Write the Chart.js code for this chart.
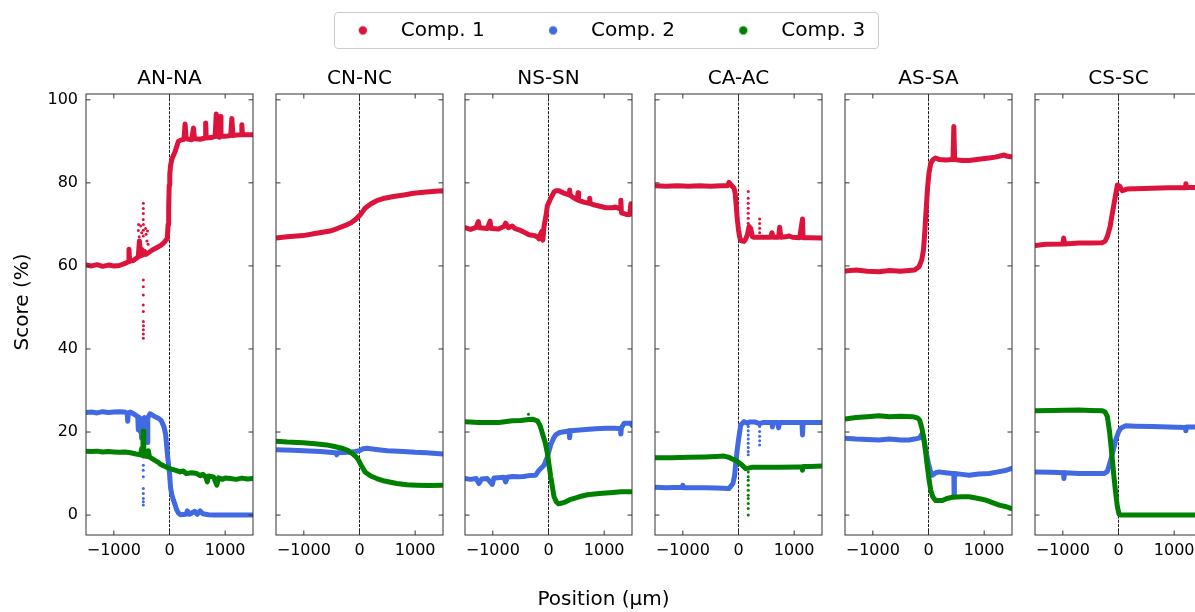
<!DOCTYPE html>
<html>
<head>
<meta charset="utf-8">
<script src="https://cdn.jsdelivr.net/npm/chart.js@4"></script>
<style>
  html, body { margin: 0; padding: 0; background: #fff; }
  #fig { position: relative; width: 1195px; height: 612px; overflow: hidden; }
  #fig canvas { position: absolute; }
  #legendBox {
    position: absolute; left: 334px; top: 12px; width: 545px; height: 37px;
    box-sizing: border-box; border: 1px solid #cccccc; border-radius: 4px;
  }
</style>
</head>
<body>
<div id="fig">
  <canvas id="frame" width="1172" height="612" style="left:0;top:0"></canvas>
  <div id="legendBox"></div>
  <canvas id="legend" width="700" height="300" style="left:268px;top:-56px"></canvas>
</div>
<script>
// Series names and panel titles
const seriesNames = ['Comp. 1', 'Comp. 2', 'Comp. 3'];
const panelTitles = ['AN-NA', 'CN-NC', 'NS-SN', 'CA-AC', 'AS-SA', 'CS-SC'];

// Shared axis limits and tick values (µm, %)
const xLimits = [-1500, 1500];
const yLimits = [-4.8, 101.4];
const xTickValues = [-1000, 0, 1000];
const yTickValues = [0, 20, 40, 60, 80, 100];

// [position, score] pairs
const anNaComp1 = [[-1500,60.2],[-1400,60.0],[-1300,60.3],[-1200,59.9],[-1100,60.2],[-1000,60.0],[-900,60.1],[-800,60.6],
  [-740,61.0],[-728,64.0],[-716,61.2],[-650,61.3],[-600,61.8],[-560,62.2],[-540,66],[-520,62.4],[-500,64],[-480,62.6],
  [-450,63.5],[-420,62.8],[-400,63.0],[-300,63.9],[-200,64.6],[-150,65.0],[-100,65.6],[-60,66.3],[-40,66.5],[-25,70],
  [-15,74],[-5,79.5],[5,82],[20,84.3],[50,86],[100,87.5],[160,90.0],[200,90.3],[260,90.5],[280,94.2],[300,90.6],[400,90.4],
  [430,93.2],[450,90.6],[550,90.5],[640,90.8],[650,94.4],[660,90.8],[750,90.9],[820,91.2],[840,96.6],[860,91.2],[900,91],
  [910,96],[925,91.3],[1000,91.2],[1100,91.4],[1120,95.5],[1140,91.4],[1200,91.5],[1290,91.6],[1300,94],[1310,91.6],
  [1400,91.6],[1500,91.6]];
const anNaComp2 = [[-1500,24.7],[-1400,24.8],[-1300,24.6],[-1200,24.9],[-1100,24.7],[-1000,24.8],[-900,24.9],[-800,24.8],
  [-760,24.5],[-750,22.6],[-740,24.6],[-700,24.8],[-650,24.4],[-600,24.0],[-570,23.6],[-560,20.5],[-550,23.6],[-520,22.5],
  [-500,18.5],[-490,23.2],[-470,21],[-450,23.5],[-430,19],[-420,23.0],[-400,17.5],[-390,23.4],[-350,24.4],[-300,24.0],
  [-250,23.6],[-200,23.3],[-150,22.8],[-100,21.3],[-70,19.5],[-50,16.5],[-25,13],[0,10],[20,6.5],[40,5],[70,3.6],[100,2.5],
  [130,1.2],[160,0.5],[200,0.1],[300,0.2],[320,1.0],[360,0.2],[450,0.9],[500,0.2],[550,1.0],[600,0.3],[700,0.1],[800,0],
  [1000,0],[1200,0],[1500,0]];
const anNaComp3 = [[-1500,15.4],[-1400,15.3],[-1300,15.4],[-1200,15.2],[-1100,15.3],[-1000,15.2],[-900,15.1],[-800,15.2],
  [-700,15.0],[-600,14.7],[-520,14.5],[-500,16],[-480,14.3],[-472,20.2],[-462,14.3],[-400,14.1],[-380,15.5],[-360,14],
  [-300,13.5],[-200,12.7],[-170,12.3],[-100,11.8],[0,11.2],[100,10.8],[190,10.4],[250,10.6],[300,10.0],[400,10.2],
  [490,10.0],[550,9.5],[600,9.8],[650,9.2],[680,8.0],[700,9.4],[790,9.2],[850,7.2],[880,9.0],[950,8.6],[1000,8.9],
  [1090,8.8],[1200,8.6],[1300,8.9],[1400,8.7],[1500,8.8]];
const anNaDots1 = [[-470,75.1],[-470,73.8],[-470,72.6],[-472,71.2],[-468,70.0],[-470,68.6],[-470,67.2],[-560,68.5],
  [-555,70.0],[-545,67.0],[-530,65.8],[-515,69.6],[-500,68.0],[-430,69.0],[-420,67.6],[-405,66.0],[-395,68.4],[-385,65.2],
  [-470,56.6],[-470,55.0],[-470,53.0],[-472,50.6],[-470,49.0],[-470,46.6],[-468,45.6],[-470,44.6],[-470,43.6],[-470,42.6]];
const anNaDots2 = [[-472,21.3],[-470,18.9],[-470,16.5],[-470,14.0],[-470,12.0],[-472,10.8],[-470,9.2],[-470,6.4],
  [-470,5.2],[-470,4.0],[-470,3.2],[-470,2.4],[-540,20],[-510,18.5],[-440,19.5],[-420,17.5],[-400,21]];

const cnNcComp1 = [[-1500,66.7],[-1300,67.0],[-1010,67.3],[-800,67.8],[-530,68.4],[-400,69.0],[-230,69.9],[-150,70.4],
  [-80,71.1],[0,72.1],[50,73.0],[100,73.9],[200,74.9],[310,75.7],[450,76.3],[610,76.7],[800,77.1],[970,77.5],[1200,77.8],
  [1480,78.1],[1500,78.0]];
const cnNcComp2 = [[-1500,15.7],[-1200,15.6],[-1000,15.5],[-700,15.3],[-430,15.0],[-410,14.5],[-390,15.0],[-200,15.1],
  [-80,15.3],[0,15.5],[50,15.9],[130,16.1],[300,15.8],[500,15.5],[790,15.3],[1000,15.1],[1200,15.0],[1500,14.7]];
const cnNcComp3 = [[-1500,17.8],[-1300,17.6],[-1010,17.4],[-800,17.2],[-590,16.9],[-450,16.5],[-320,16.1],[-200,15.5],
  [-140,14.9],[-60,14.0],[-20,13.3],[30,12.0],[100,10.4],[200,9.4],[310,8.8],[450,8.2],[670,7.6],[850,7.3],[1030,7.2],
  [1250,7.1],[1500,7.2]];

const nsSnComp1 = [[-1500,69.2],[-1400,68.8],[-1300,69.3],[-1260,70.7],[-1240,69.2],[-1100,69.0],[-1050,70.8],[-1030,69.0],
  [-900,68.9],[-800,69.5],[-770,70.3],[-720,69.2],[-650,69.6],[-600,69.0],[-530,68.7],[-450,68.2],[-350,67.5],[-250,67.3],
  [-200,67.0],[-170,66.5],[-150,67.5],[-120,68.3],[-100,66.2],[-80,69.5],[-40,72.5],[-20,74.5],[40,76.3],[100,77.8],
  [130,78.1],[190,78.1],[260,77.6],[370,77.1],[380,78.3],[390,77.0],[450,76.4],[520,75.9],[530,77.6],[540,75.8],[650,75.3],
  [730,75.1],[740,76.3],[750,75.0],[850,74.6],[1030,74.0],[1150,74.0],[1200,74.2],[1290,73.7],[1300,75.8],[1310,72.8],
  [1400,72.4],[1460,72.4],[1480,75.0],[1500,75.0]];
const nsSnComp2 = [[-1500,8.8],[-1400,8.6],[-1300,8.8],[-1250,7.6],[-1200,8.7],[-1100,8.8],[-1010,7.4],[-980,8.9],
  [-900,9.0],[-800,9.1],[-770,8.0],[-740,9.1],[-650,9.3],[-530,9.2],[-450,9.3],[-350,9.5],[-230,9.6],[-170,10.8],[-80,12.0],
  [-20,14.0],[40,16.9],[90,18.5],[130,19.3],[200,19.9],[310,20.1],[370,20.3],[380,18.6],[390,20.3],[500,20.4],[670,20.6],
  [850,20.8],[1030,20.9],[1200,20.9],[1290,20.8],[1300,19.5],[1310,21.0],[1360,22.1],[1480,22.1],[1500,21.6]];
const nsSnComp3 = [[-1500,22.5],[-1250,22.3],[-890,22.3],[-650,22.7],[-500,22.8],[-360,23.0],[-290,23.1],[-200,22.7],
  [-150,21.5],[-110,19.7],[-60,17.5],[-20,14.9],[40,9.2],[100,4.4],[140,3.2],[180,2.7],[240,2.9],[310,3.2],[400,3.8],
  [550,4.4],[700,4.9],[910,5.2],[1100,5.4],[1300,5.6],[1500,5.6]];
const nsSnDots3 = [[-360,24.3]];

const caAcComp1 = [[-1500,79.3],[-1300,79.2],[-1100,79.3],[-900,79.2],[-700,79.3],[-500,79.2],[-300,79.3],[-200,79.3],
  [-170,80.1],[-120,79.3],[-80,78.7],[-60,77.5],[-40,74.3],[-20,71],[0,68.7],[20,67],[40,66.1],[100,65.9],[130,66.5],
  [160,67.5],[190,69.5],[220,69.0],[250,67.0],[280,66.9],[400,66.9],[580,66.9],[600,68.0],[620,66.9],[720,66.9],[740,69.3],
  [760,66.9],[850,67.0],[910,67.2],[970,66.9],[1100,66.8],[1150,71.3],[1160,66.8],[1300,66.8],[1480,66.7],[1500,66.7]];
const caAcComp2 = [[-1500,6.7],[-1300,6.6],[-1010,6.7],[-1000,7.2],[-990,6.6],[-800,6.6],[-600,6.6],[-400,6.5],[-170,6.4],
  [-100,7.6],[-70,9.5],[-50,12.4],[-25,15.5],[0,18.1],[40,21.7],[100,22.5],[160,22.1],[200,22.4],[300,22.4],[380,22.0],
  [450,22.3],[600,22.3],[610,21.2],[620,22.3],[700,22.3],[720,21.0],[740,22.3],[1140,22.3],[1150,19.3],[1160,22.3],
  [1300,22.3],[1500,22.3]];
const caAcComp3 = [[-1500,13.8],[-1200,13.8],[-890,13.9],[-600,14.0],[-400,14.1],[-260,14.2],[-200,14.0],[-140,13.7],
  [-80,13.3],[-20,12.9],[50,12.2],[130,11.2],[180,11.3],[250,11.5],[400,11.5],[600,11.5],[730,11.5],[1100,11.6],
  [1140,11.6],[1150,10.8],[1160,11.7],[1300,11.7],[1500,11.8]];
const caAcDots1 = [[175,77.9],[175,76.3],[175,75.1],[175,73.9],[175,72.7],[175,71.5],[175,70.3],[380,71.3],[380,70.2],
  [380,69.1],[380,68.0]];
const caAcDots2 = [[175,21.3],[175,20.3],[175,19.3],[175,18.3],[175,17.3],[175,16.3],[175,15.3],[175,14.5],[380,21.3],
  [380,20.1],[380,19.0],[380,17.9],[380,16.9]];
const caAcDots3 = [[175,10.4],[175,9.2],[175,8.4],[175,7.2],[175,6.0],[175,4.8],[175,4.0],[175,2.8],[175,1.6],[175,0]];

const asSaComp1 = [[-1500,58.8],[-1300,59.0],[-1100,58.7],[-890,58.6],[-700,58.9],[-500,58.7],[-350,58.9],[-250,59.0],
  [-170,59.8],[-120,61.5],[-90,63.9],[-70,67.5],[-50,71.9],[-30,76],[-15,79.1],[10,82.5],[40,84.7],[80,85.6],[130,86.0],
  [200,85.6],[310,85.5],[440,85.6],[455,93.6],[470,85.6],[600,85.4],[730,85.4],[900,85.7],[1090,86.0],[1200,86.2],
  [1360,86.7],[1420,86.4],[1480,86.3],[1500,86.3]];
const asSaComp2 = [[-1500,18.5],[-1300,18.3],[-1100,18.2],[-890,18.1],[-700,18.3],[-500,18.1],[-350,18.1],[-250,18.3],
  [-160,18.6],[-110,19.7],[-80,18],[-50,15.7],[-25,14],[0,12.4],[30,10.8],[70,9.6],[130,10.2],[190,10.4],[300,10.2],
  [430,10.0],[455,10.0],[460,4.8],[465,10],[600,9.8],[730,9.6],[900,9.9],[1090,10.0],[1250,10.4],[1400,10.8],[1480,11.2],
  [1500,11.2]];
const asSaComp3 = [[-1500,23.1],[-1300,23.5],[-1100,23.7],[-890,23.9],[-700,23.7],[-500,23.8],[-290,23.7],[-200,23.4],
  [-160,22.9],[-120,21],[-80,18.1],[-50,15],[-20,11.6],[10,8.5],[40,6.0],[80,4.3],[130,3.5],[250,3.5],[330,4.0],[430,4.3],
  [600,4.4],[730,4.4],[900,4.0],[1030,3.6],[1150,3.0],[1270,2.4],[1400,2.0],[1480,1.6],[1500,1.6]];

const csScComp1 = [[-1500,64.9],[-1300,65.2],[-1000,65.3],[-985,66.7],[-970,65.3],[-710,65.5],[-500,65.5],[-290,65.6],
  [-240,66.0],[-200,67.1],[-150,69.5],[-110,72.7],[-60,76.5],[-20,79.5],[20,79.2],[40,78.7],[70,78.1],[150,78.5],
  [300,78.6],[610,78.7],[900,78.8],[1200,78.8],[1210,79.8],[1220,78.9],[1360,78.9],[1500,78.9]];
const csScComp2 = [[-1500,10.4],[-1200,10.3],[-990,10.2],[-980,8.8],[-970,10.2],[-710,10.0],[-500,10.0],[-260,10.0],
  [-200,10.5],[-140,13.3],[-90,15.8],[-50,18.1],[0,20],[40,20.9],[130,21.5],[300,21.4],[610,21.3],[900,21.2],[1200,21.1],
  [1210,20.3],[1220,21.2],[1500,21.2]];
const csScComp3 = [[-1500,25.1],[-1200,25.2],[-710,25.3],[-500,25.2],[-290,25.1],[-240,24.8],[-200,23.7],[-160,20],
  [-110,13.3],[-80,9],[-50,5.2],[-20,2],[10,0.2],[40,0],[300,0],[800,0],[1500,0]];

const colors = ['#dc143c', '#4169e1', '#008000'];
const panelLefts = [86, 276, 465, 655, 845, 1035];

Chart.defaults.font.family = "'DejaVu Sans', sans-serif";
Chart.defaults.color = '#000';

const panelSeries = [
  { lines: [anNaComp1, anNaComp2, anNaComp3], dots: [anNaDots1, anNaDots2, []] },
  { lines: [cnNcComp1, cnNcComp2, cnNcComp3], dots: [[], [], []] },
  { lines: [nsSnComp1, nsSnComp2, nsSnComp3], dots: [[], [], nsSnDots3] },
  { lines: [caAcComp1, caAcComp2, caAcComp3], dots: [caAcDots1, caAcDots2, caAcDots3] },
  { lines: [asSaComp1, asSaComp2, asSaComp3], dots: [[], [], []] },
  { lines: [csScComp1, csScComp2, csScComp3], dots: [[], [], []] },
];

// dashed line at 0, box and inward ticks on all four sides
const panelAxes = {
  id: 'panelAxes',
  beforeDatasetsDraw(chart) {
    const { ctx, chartArea: a, scales: { x } } = chart;
    const px = x.getPixelForValue(0);
    ctx.save();
    ctx.strokeStyle = '#000';
    ctx.lineWidth = 0.9;
    ctx.setLineDash([3, 1.3]);
    ctx.beginPath();
    ctx.moveTo(px, a.top);
    ctx.lineTo(px, a.bottom);
    ctx.stroke();
    ctx.restore();
  },
  afterDatasetsDraw(chart) {
    const { ctx, chartArea: a, scales: { x, y } } = chart;
    const len = 4.5;
    ctx.save();
    ctx.strokeStyle = '#333';
    ctx.lineWidth = 1;
    ctx.beginPath();
    x.ticks.forEach(t => {
      const p = x.getPixelForValue(t.value);
      ctx.moveTo(p, a.bottom); ctx.lineTo(p, a.bottom - len);
      ctx.moveTo(p, a.top); ctx.lineTo(p, a.top + len);
    });
    y.ticks.forEach(t => {
      const p = y.getPixelForValue(t.value);
      ctx.moveTo(a.left, p); ctx.lineTo(a.left + len, p);
      ctx.moveTo(a.right, p); ctx.lineTo(a.right - len, p);
    });
    ctx.stroke();
    ctx.strokeRect(a.left, a.top, a.right - a.left, a.bottom - a.top);
    ctx.restore();
  }
};

const toPoints = pairs => pairs.map(([x, y]) => ({ x, y }));
const minusLabel = v => (v < 0 ? '\u2212' + Math.abs(v) : String(v));

panelSeries.forEach((panel, i) => {
  const canvas = document.createElement('canvas');
  canvas.width = 261;
  canvas.height = 612;
  canvas.style.left = (panelLefts[i] - 86) + 'px';
  canvas.style.top = '0px';
  document.getElementById('fig').appendChild(canvas);

  const datasets = [];
  panel.lines.forEach((pairs, c) => {
    datasets.push({
      label: seriesNames[c],
      data: toPoints(pairs),
      showLine: true,
      borderColor: colors[c],
      backgroundColor: colors[c],
      borderWidth: 5,
      borderJoinStyle: 'round',
      borderCapStyle: 'round',
      pointRadius: 0,
      tension: 0,
      clip: 0,
      order: 2 - c,
    });
    if (panel.dots[c].length) {
      datasets.push({
        label: seriesNames[c],
        data: toPoints(panel.dots[c]),
        showLine: false,
        backgroundColor: colors[c],
        borderWidth: 0,
        pointRadius: 1.5,
        clip: 0,
        order: 2 - c,
      });
    }
  });

  new Chart(canvas, {
    type: 'scatter',
    data: { datasets },
    options: {
      responsive: false,
      animation: false,
      layout: { padding: { top: 67, right: 8, bottom: 37, left: 0 } },
      plugins: {
        legend: { display: false },
        tooltip: { enabled: false },
        title: {
          display: true,
          text: panelTitles[i],
          fullSize: false,
          font: { size: 20, weight: 'normal' },
          color: '#000',
          padding: { top: 0, bottom: 3 },
        },
      },
      scales: {
        x: {
          type: 'linear',
          min: xLimits[0],
          max: xLimits[1],
          grid: { display: false, drawTicks: false },
          border: { display: false },
          ticks: { padding: 6, maxRotation: 0, autoSkip: false,
                   font: { size: 16 }, color: '#000', callback: minusLabel },
          afterBuildTicks: s => { s.ticks = xTickValues.map(value => ({ value })); },
          afterFit: s => { s.height = 40; },
        },
        y: {
          type: 'linear',
          min: yLimits[0],
          max: yLimits[1],
          grid: { display: false, drawTicks: false },
          border: { display: false },
          ticks: { display: i === 0, padding: 8, autoSkip: false,
                   font: { size: 16 }, color: '#000', callback: v => String(v) },
          afterBuildTicks: s => { s.ticks = yTickValues.map(value => ({ value })); },
          afterFit: s => { s.width = 86; },
        },
      },
    },
    plugins: [panelAxes],
  });
});

// figure-level axis titles
new Chart(document.getElementById('frame'), {
  type: 'scatter',
  data: { datasets: [] },
  options: {
    responsive: false,
    animation: false,
    layout: { padding: { top: 24, right: 0, bottom: 0, left: 0 } },
    plugins: { legend: { display: false }, tooltip: { enabled: false } },
    scales: {
      x: {
        min: 0, max: 1,
        grid: { display: false }, border: { display: false }, ticks: { display: false },
        title: { display: true, text: 'Position (µm)', font: { size: 20 }, color: '#000', padding: { top: 0, bottom: 0 } },
      },
      y: {
        min: 0, max: 1,
        grid: { display: false }, border: { display: false }, ticks: { display: false },
        title: { display: true, text: 'Score (%)', font: { size: 20 }, color: '#000', padding: { top: 11, bottom: 0 } },
        afterFit: s => { s.width = 35; },
      },
    },
  },
});

// legend marker: dot drawn left of the label slot to match the wide gap
function legendMarker(color) {
  const c = document.createElement('canvas');
  c.width = 46;
  c.height = 12;
  const g = c.getContext('2d');
  g.fillStyle = color;
  g.beginPath();
  g.arc(5, 6, 4.2, 0, Math.PI * 2);
  g.fill();
  return c;
}

new Chart(document.getElementById('legend'), {
  type: 'scatter',
  data: {
    datasets: seriesNames.map((name, c) => ({ label: name, data: [], backgroundColor: colors[c], borderColor: colors[c] })),
  },
  options: {
    responsive: false,
    animation: false,
    scales: { x: { display: false }, y: { display: false } },
    plugins: {
      tooltip: { enabled: false },
      legend: {
        display: true,
        position: 'top',
        align: 'center',
        onClick: () => {},
        labels: {
          usePointStyle: true,
          boxWidth: 20,
          boxHeight: 20,
          padding: 76.4,
          font: { size: 20 },
          color: '#000',
          generateLabels: chart => chart.data.datasets.map((ds, c) => ({
            text: ds.label,
            pointStyle: legendMarker(ds.backgroundColor),
            fillStyle: ds.backgroundColor,
            strokeStyle: ds.backgroundColor,
            lineWidth: 0,
            hidden: false,
            datasetIndex: c,
            fontColor: '#000',
          })),
        },
      },
    },
  },
});
</script>
</body>
</html>
